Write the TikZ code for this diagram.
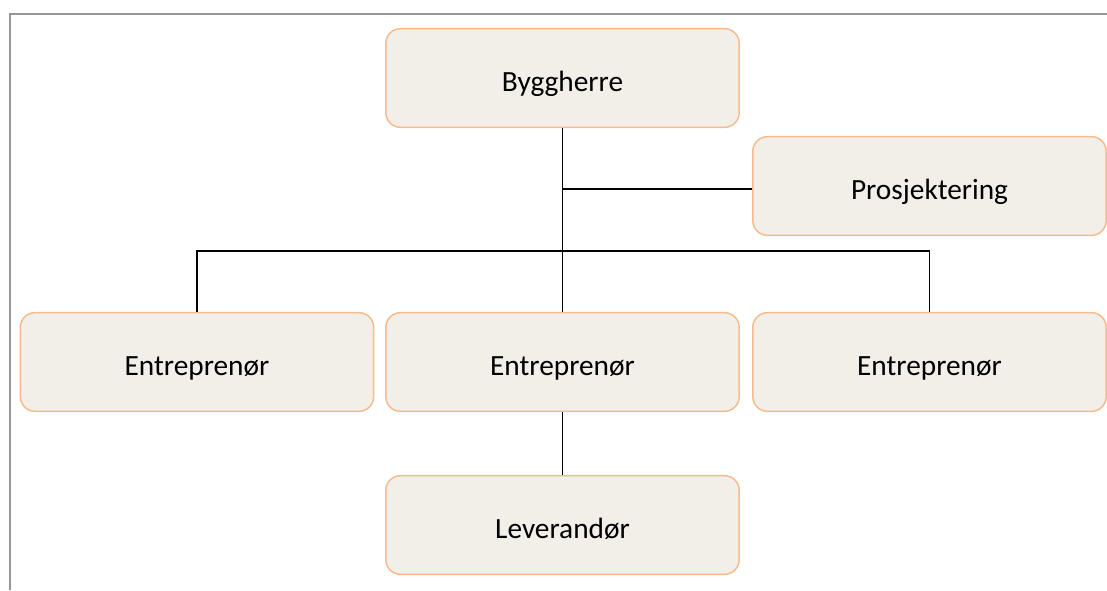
\documentclass[tikz,border=0pt]{standalone}
\usepackage{fontspec}
\setmainfont{Carlito}
\definecolor{boxfill}{RGB}{242,238,232}
\definecolor{boxline}{RGB}{248,186,140}
\definecolor{framegray}{RGB}{150,150,150}

\begin{document}
\begin{tikzpicture}[x=0.75pt,y=0.75pt,yscale=-1,xscale=1,
  orgbox/.style={draw=boxline, fill=boxfill, line width=1.1pt, rounded corners=11pt,
    minimum width=265pt, minimum height=74pt, font=\fontsize{22}{26}\selectfont,
    inner sep=0pt, text height=20pt, text depth=0pt},
  link/.style={draw=black, line width=1.1pt}]
\useasboundingbox (0,0) rectangle (1107,590);

% Frame
\draw [framegray, line width=1.6pt] (10,590) -- (10,14) -- (1110,14);

% Boxes
\node [orgbox] (byg) at (562.5,78) {Byggherre};
\node [orgbox] (pros) at (929.5,186) {Prosjektering};
\node [orgbox] (entl) at (197,362) {Entreprenør};
\node [orgbox] (entm) at (562.5,362) {Entreprenør};
\node [orgbox] (entr) at (929.5,362) {Entreprenør};
\node [orgbox] (lev) at (562.5,525) {Leverandør};

% Connections
\coordinate (bus) at (562.5,251);
\coordinate (side) at ([yshift=2.25pt]pros.west);
\draw [link] (byg.south) -- (entm.north);
\draw [link] (byg.south |- side) -- (side);
\draw [link] (entl.north) |- (bus) -| (entr.north);
\draw [link] (entm.south) -- (lev.north);

\end{tikzpicture}
\end{document}
